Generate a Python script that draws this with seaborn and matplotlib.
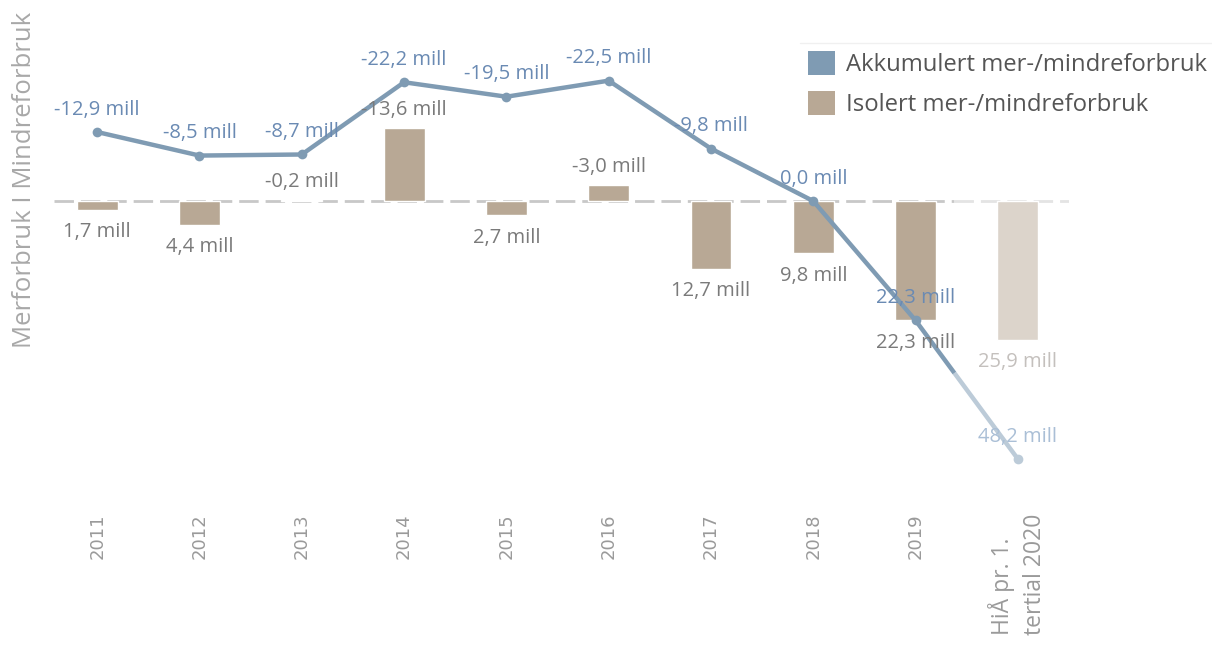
import numpy as np
import pandas as pd
import matplotlib
matplotlib.use("Agg")
import matplotlib.pyplot as plt
from matplotlib.patches import Patch
from matplotlib.lines import Line2D
from matplotlib.font_manager import FontProperties
import seaborn as sns

# ---- data ----
categories = ["2011", "2012", "2013", "2014", "2015", "2016", "2017", "2018", "2019",
              "HiÅ pr. 1.\ntertial 2020"]
accumulated = [-12.9, -8.5, -8.7, -22.2, -19.5, -22.5, -9.8, 0.0, 22.3, 48.2]
isolated = [1.7, 4.4, -0.2, -13.6, 2.7, -3.0, 12.7, 9.8, 22.3, 25.9]
legend_labels = ["Akkumulert mer-/mindreforbruk", "Isolert mer-/mindreforbruk"]
y_title = "Merforbruk I Mindreforbruk"

# ---- style ----
sns.set_theme(style="white")
plt.rcParams["font.family"] = ["Open Sans", "DejaVu Sans"]

LINE = "#7f9bb3"
LINE_LIGHT = "#bccbd8"
BAR = "#b8a895"
BAR_LIGHT = "#dcd4cb"
LINE_TXT = "#6a8ab3"
LINE_TXT_LIGHT = "#aabfd6"
BAR_TXT = "#7a7a7a"
BAR_TXT_LIGHT = "#c4c0bd"

fig = plt.figure(figsize=(12.12, 6.46), dpi=100)
ax = fig.add_axes([0.038, 0.2415, 0.844, 0.6966])

n = len(categories)
x = np.arange(n)
df = pd.DataFrame({"cat": categories, "iso": isolated, "acc": accumulated, "x": x})

bar_colors = [BAR] * (n - 1) + [BAR_LIGHT]
sns.barplot(data=df, x="cat", y="iso", hue="cat", palette=bar_colors,
            width=0.4, legend=False, ax=ax, saturation=1, zorder=2)

# zero reference line (lighter for the last, partial period)
split = 8.38
ax.hlines(0, -0.42, split, colors="#c8c8c8", linestyles=(0, (7, 2.5)), lw=2, zorder=1)
ax.hlines(0, split, 9.5, colors="#e4e4e4", linestyles=(0, (7, 2.5)), lw=2, zorder=1)

# accumulated line
sns.lineplot(x=x[:-1], y=accumulated[:-1], color=LINE, lw=3.2, ax=ax, zorder=4,
             marker="o", markersize=7, markeredgewidth=0)
y_split = np.interp(split, x[-2:], accumulated[-2:])
ax.plot([x[-2], split], [accumulated[-2], y_split], color=LINE, lw=3.2, zorder=4,
        solid_capstyle="butt")
ax.plot([split, x[-1]], [y_split, accumulated[-1]], color=LINE_LIGHT, lw=3.2, zorder=3,
        solid_capstyle="butt")
ax.plot([x[-1]], [accumulated[-1]], "o", color=LINE_LIGHT, ms=7, mew=0, zorder=4)

def fmt(v):
    return f"{v:.1f}".replace(".", ",") + " mill"

for i, v in enumerate(accumulated):
    c = LINE_TXT_LIGHT if i == n - 1 else LINE_TXT
    ax.annotate(fmt(v), (i, v), xytext=(0, 16), textcoords="offset points",
                ha="center", va="center", fontsize=14.5, color=c, zorder=6)

for i, v in enumerate(isolated):
    c = BAR_TXT_LIGHT if i == n - 1 else BAR_TXT
    off = -16 if v > 0 else 13
    ax.annotate(fmt(abs(v)) if v > 0 else fmt(v), (i, v), xytext=(0, off),
                textcoords="offset points", ha="center", va="center",
                fontsize=14.5, color=c, zorder=5)

ax.set_xlim(-0.5, 9.5)
ax.set_ylim(54.0, -30.1)
ax.set_xlabel("")
ax.set_ylabel("")
ax.set_yticks([])
for s in ax.spines.values():
    s.set_visible(False)

ax.set_xticks(x)
ax.set_xticklabels(categories)
ax.tick_params(axis="x", length=0, pad=17)
year_font = FontProperties(family="DejaVu Sans", size=13)
last_font = FontProperties(family=["Open Sans", "DejaVu Sans"], size=16.5)
for i, t in enumerate(ax.get_xticklabels()):
    t.set_rotation(90)
    t.set_va("top")
    t.set_ha("center")
    t.set_color("#9a9a9a")
    if i == n - 1:
        t.set_fontproperties(last_font)
        t.set_multialignment("left")
        t.set_linespacing(1.45)
    else:
        t.set_fontproperties(year_font)

fig.text(0.0206, 1 - 180 / 646, y_title, rotation=90, ha="center", va="center",
         fontsize=18.5, color="#a8a8a8")

# legend
fig.add_artist(Line2D([800 / 1212, 1.0], [1 - 43 / 646] * 2, color="#f0f0f0", lw=1))
handles = [Patch(facecolor=LINE, edgecolor="none"), Patch(facecolor=BAR, edgecolor="none")]
fig.legend(handles, legend_labels, loc="upper left",
           bbox_to_anchor=(808 / 1212, 1 - 51 / 646), frameon=False,
           fontsize=17.2, handlelength=1.15, handleheight=1.15, handletextpad=0.45,
           labelspacing=0.6, borderaxespad=0, borderpad=0, labelcolor="#555555")

fig.savefig("out.png", dpi=100)
